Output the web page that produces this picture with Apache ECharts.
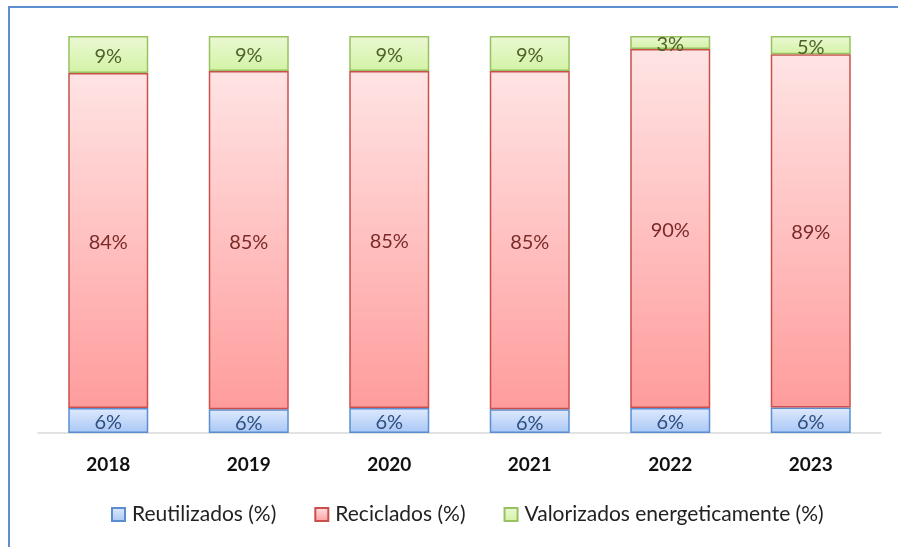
<!DOCTYPE html>
<html>
<head>
<meta charset="utf-8">
<script src="https://cdn.jsdelivr.net/npm/echarts@6/dist/echarts.min.js"></script>
<style>
html,body{margin:0;padding:0;background:#fff;}
#frame{position:absolute;left:8px;top:6px;width:900px;height:560px;border-left:2px solid #5b8fd0;border-top:2px solid #5b8fd0;}
#chart{position:absolute;left:0;top:0;width:898px;height:547px;}
</style>
</head>
<body>
<div id="frame"></div>
<div id="chart"></div>
<script>
const categories = ['2018','2019','2020','2021','2022','2023'];
const seriesNames = ['Reutilizados (%)','Reciclados (%)','Valorizados energeticamente (%)'];
const reutilizados = [6.3, 6.0, 6.3, 6.0, 6.3, 6.4];
const reciclados = [84.4, 85.2, 84.9, 85.2, 90.4, 89.0];
const valorizados = [9.3, 8.8, 8.8, 8.8, 3.3, 4.6];

function grad(top, bottom){
  return new echarts.graphic.LinearGradient(0,0,0,1,[{offset:0,color:top},{offset:1,color:bottom}]);
}
const font = 'Lato, "Open Sans", sans-serif';
function mk(name, data, fill, border, labelColor){
  return {
    name: name, type:'bar', stack:'total', data:data, barWidth:80,
    itemStyle:{color:fill, borderColor:border, borderWidth:1.5},
    label:{show:true, position:'inside', color:labelColor, fontSize:20, fontFamily:font, offset:[0,2],
      formatter: p => Math.round(p.value) + '%'},
    emphasis:{disabled:true}
  };
}
const chart = echarts.init(document.getElementById('chart'), null, {renderer:'canvas'});
chart.setOption({
  animation:false,
  backgroundColor:'transparent',
  grid:{left:38, right:17, top:36, bottom:114, containLabel:false},
  legend:{
    top:499, left:106, itemWidth:13, itemHeight:13, itemGap:38, icon:'rect',
    textStyle:{fontSize:21, color:'#222', fontFamily:font, padding:[0,0,0,2]},
    data:seriesNames
  },
  xAxis:{type:'category', data:categories,
    axisLine:{lineStyle:{color:'#d9d9d9', width:1.5}}, axisTick:{show:false},
    axisLabel:{color:'#111', fontSize:19, fontWeight:'bold', fontFamily:font, margin:22}},
  yAxis:{type:'value', min:0, max:100, show:false},
  series:[
    mk(seriesNames[0], reutilizados, grad('#dfeafd','#a9c7f6'), '#5a8ed0', '#2d4f80'),
    mk(seriesNames[1], reciclados, grad('#ffe4e4','#ff9c9c'), '#c9504d', '#7a2a28'),
    mk(seriesNames[2], valorizados, grad('#ebf8d4','#d3f3a6'), '#98c160', '#4f6228')
  ]
});
</script>
</body>
</html>
